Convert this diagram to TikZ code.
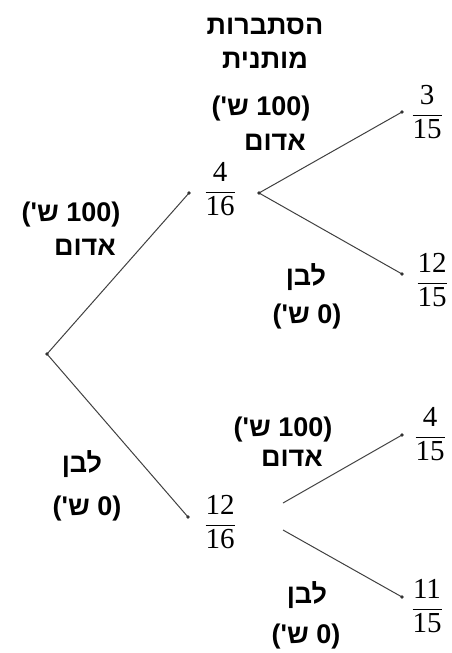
\documentclass[tikz,border=0pt]{standalone}
\usepackage{fontspec}
\TeXXeTstate=1
\newfontfamily\hebfont[Script=Hebrew]{Liberation Sans}
\newfontfamily\numfont{Liberation Serif}
\newcommand\myfrac[2]{{\numfont\fontsize{29}{34}\selectfont$\displaystyle\frac{\hbox{#1}}{\hbox{#2}}$}}
\tikzset{
  heb/.style={font=\hebfont\bfseries\fontsize{27}{30}\selectfont, inner sep=0pt},
  frac/.style={inner sep=0pt},
  branch/.style={draw=black!75, line width=1pt},
  dotfill/.style={fill=black!80}
}
\begin{document}
\begin{tikzpicture}[x=1pt,y=-1pt]
\useasboundingbox (0,0) rectangle (451,653);
% branch points
\coordinate (root) at (47,354);
\coordinate (a1) at (189,193);
\coordinate (a2) at (259,193);
\coordinate (a3) at (402,112);
\coordinate (a4) at (402,274);
\coordinate (b1) at (188,517);
\coordinate (b2) at (283,503);
\coordinate (b3) at (283,530);
\coordinate (b4) at (402,435);
\coordinate (b5) at (402,597);
% fractions
\node[frac] (f1)  at (220,189) {\myfrac{4}{16}};
\node[frac] (f11) at (427,112) {\myfrac{3}{15}};
\node[frac] (f12) at (432,280) {\myfrac{12}{15}};
\node[frac] (f2)  at (220,522) {\myfrac{12}{16}};
\node[frac] (f21) at (430,434) {\myfrac{4}{15}};
\node[frac] (f22) at (427,606) {\myfrac{11}{15}};
% connectors
\draw[branch] (root) -- (a1);
\draw[branch] (root) -- (b1);
\draw[branch] (a2) -- (a3);
\draw[branch] (a2) -- (a4);
\draw[branch] (b2) -- (b4);
\draw[branch] (b3) -- (b5);
\foreach \p in {root,a1,a2,a3,a4,b1,b4,b5} \fill[dotfill] (\p) circle (1.8);
% labels
\node[heb] (t1) at (265,26) {\beginR הסתברות\endR};
\node[heb] (t2) at (265,60) {\beginR מותנית\endR};
\node[heb] (r1p) at (261,109) {\beginR (100 ש')\endR};
\node[heb] (r1w) at (275,142) {\beginR אדום\endR};
\node[heb] (r0p) at (71,215) {\beginR (100 ש')\endR};
\node[heb] (r0w) at (85,247) {\beginR אדום\endR};
\node[heb] (w1w) at (306,277) {\beginR לבן\endR};
\node[heb] (w1p) at (307,317) {\beginR (0 ש')\endR};
\node[heb] (r2p) at (283,430) {\beginR (100 ש')\endR};
\node[heb] (r2w) at (292,458) {\beginR אדום\endR};
\node[heb] (w0w) at (82,464) {\beginR לבן\endR};
\node[heb] (w0p) at (87,509) {\beginR (0 ש')\endR};
\node[heb] (w2w) at (307,595) {\beginR לבן\endR};
\node[heb] (w2p) at (306,637) {\beginR (0 ש')\endR};
\end{tikzpicture}
\end{document}
